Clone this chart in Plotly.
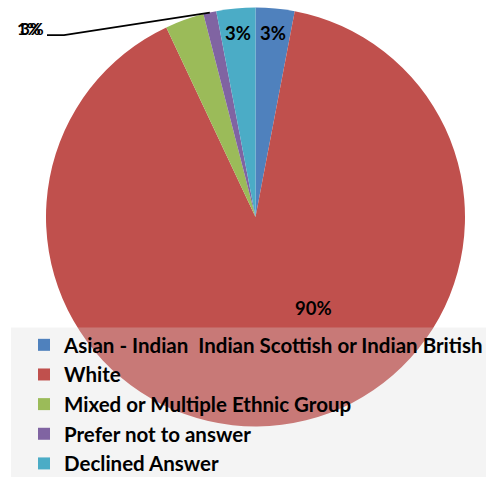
import math
import plotly.graph_objects as go

# Ethnic group breakdown (percent of respondents)
categories = [
    "Asian - Indian \u00a0Indian Scottish or Indian British",
    "White",
    "Mixed or Multiple Ethnic Group",
    "Prefer not to answer",
    "Declined Answer",
]
percent_values = [3, 90, 3, 1, 3]
slice_colors = ["#4F81BD", "#C0504D", "#9BBB59", "#8064A2", "#4BACC6"]

W, H = 486, 477
FONT = "Lato"

# pie placement in pixels
cx, cy, r = 255.5, 217.0, 209.5


def px(x):
    return x / W


def py(y):
    return 1 - y / H


fig = go.Figure(
    go.Pie(
        labels=categories,
        values=percent_values,
        marker=dict(colors=slice_colors, line=dict(width=0)),
        sort=False,
        direction="clockwise",
        rotation=0,
        textinfo="none",
        hoverinfo="label+percent",
        domain=dict(x=[px(cx - r), px(cx + r)], y=[py(cy + r), py(cy - r)]),
    )
)

# slice mid-angles measured clockwise from 12 o'clock
total = sum(percent_values)
mids = []
acc = 0.0
for v in percent_values:
    mids.append((acc + v / 2) / total * 360.0)
    acc += v


def polar(angle_deg, radius):
    a = math.radians(angle_deg)
    return cx + radius * math.sin(a), cy - radius * math.cos(a)


def pct(v):
    return f"{round(v / total * 100)}%"


annotations = []
label_font = dict(family=FONT, size=18.5, color="#000000")

# in-slice labels for the two narrow top slices
for i in (0, 4):
    x, y = polar(mids[i], 0.88 * r)
    annotations.append(dict(x=px(x), y=py(y), xref="paper", yref="paper",
                            text=f"<b>{pct(percent_values[i])}</b>", showarrow=False,
                            font=label_font, xanchor="center", yanchor="middle"))

# large slice label
annotations.append(dict(x=px(313), y=py(308), xref="paper", yref="paper",
                        text=f"<b>{pct(percent_values[1])}</b>", showarrow=False,
                        font=label_font, xanchor="center", yanchor="middle"))

# outside labels for the two small left slices, sharing one leader line
for i, right_edge in ((2, 46), (3, 43)):
    annotations.append(dict(x=px(right_edge), y=py(29), xref="paper", yref="paper",
                            text=f"<b>{pct(percent_values[i])}</b>", showarrow=False,
                            font=dict(family=FONT, size=17, color="#000000"),
                            xanchor="right", yanchor="middle"))

ex, ey = polar(mids[3], r)
leader = f"M {px(47)},{py(35)} L {px(64)},{py(35)} L {px(ex)},{py(ey)}"

shapes = [
    dict(type="path", path=leader, xref="paper", yref="paper",
         line=dict(color="#000000", width=1.75), layer="above"),
    # translucent legend panel drawn over the pie
    dict(type="rect", xref="paper", yref="paper",
         x0=px(11), x1=1, y0=0, y1=py(327.5),
         fillcolor="rgba(217,217,217,0.3)", line=dict(width=0), layer="above"),
]

fig.update_layout(
    width=W,
    height=H,
    margin=dict(l=0, r=0, t=0, b=0, autoexpand=False),
    paper_bgcolor="#FFFFFF",
    plot_bgcolor="#FFFFFF",
    showlegend=True,
    legend=dict(
        x=px(24), y=py(325), xanchor="left", yanchor="top",
        bgcolor="rgba(0,0,0,0)",
        font=dict(family=FONT, size=20.5, color="#000000", weight="bold"),
        tracegroupgap=0,
    ),
    annotations=annotations,
    shapes=shapes,
)

fig.write_html("out.html")
